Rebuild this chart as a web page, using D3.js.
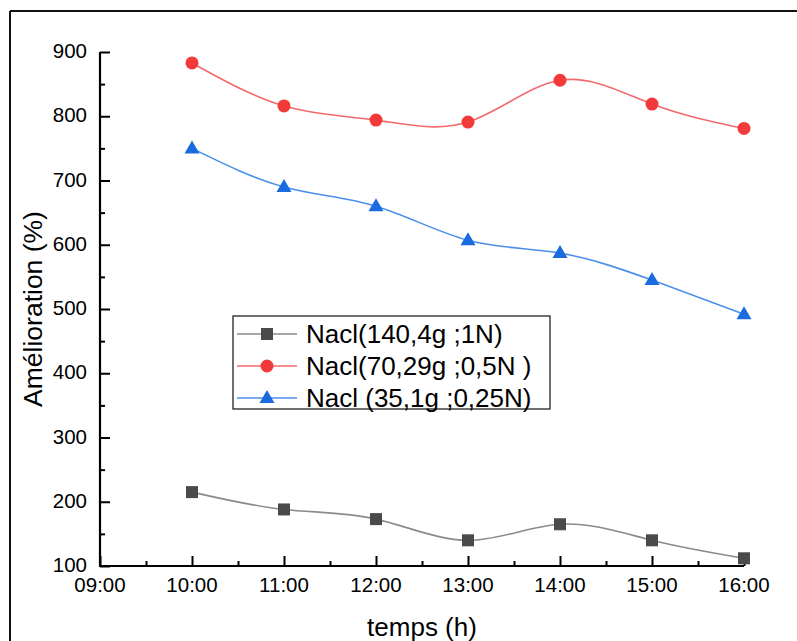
<!DOCTYPE html>
<html>
<head>
<meta charset="utf-8">
<script src="https://cdn.jsdelivr.net/npm/d3@7/dist/d3.min.js"></script>
<style>
  html, body { margin: 0; padding: 0; background: #fff; }
  svg { display: block; font-family: Arial, "Liberation Sans", sans-serif; }
</style>
</head>
<body>
<svg id="chart" width="797" height="641"></svg>
<script>
// Measurement times (hours) and tick labels
const hours = [10, 11, 12, 13, 14, 15, 16];
const xTickValues = [9, 10, 11, 12, 13, 14, 15, 16];
const xTickLabels = ["09:00", "10:00", "11:00", "12:00", "13:00", "14:00", "15:00", "16:00"];
const yTickValues = [100, 200, 300, 400, 500, 600, 700, 800, 900];

// Amélioration (%) for each NaCl concentration
const nacl1N = [215, 188, 173, 140, 165, 140, 112];
const nacl05N = [883, 816, 794, 791, 856, 819, 781];
const nacl025N = [750, 690, 660, 607, 587, 545, 492];

const seriesNames = ["Nacl(140,4g ;1N)", "Nacl(70,29g ;0,5N )", "Nacl (35,1g ;0,25N)"];

const series = [
  { name: seriesNames[0], values: nacl1N, marker: "square", fill: "#4a4a4a", line: "#8a8a8a" },
  { name: seriesNames[1], values: nacl05N, marker: "circle", fill: "#f23a3a", line: "#f36a6a" },
  { name: seriesNames[2], values: nacl025N, marker: "triangle", fill: "#1a6be0", line: "#4a90ea" }
];

const svg = d3.select("#chart");

// Outer frame (top and left edges visible)
svg.append("line").attr("x1", 10).attr("y1", 11).attr("x2", 797).attr("y2", 11)
  .attr("stroke", "#111").attr("stroke-width", 2);
svg.append("line").attr("x1", 10).attr("y1", 11).attr("x2", 10).attr("y2", 641)
  .attr("stroke", "#111").attr("stroke-width", 2);

const x = d3.scaleLinear().domain([9, 16]).range([100, 744]);
const y = d3.scaleLinear().domain([100, 900]).range([566, 52]);

// Minor ticks every half unit
const xMinor = d3.range(9.5, 16, 1);
const yMinor = d3.range(150, 900, 100);

const axisG = svg.append("g");

// Y axis
const yAxis = axisG.append("g").attr("transform", "translate(100,0)")
  .call(d3.axisRight(y).tickValues(yTickValues).tickSize(10).tickFormat(""));
yAxis.select(".domain").remove();
yAxis.selectAll(".tick line").attr("stroke", "#000").attr("stroke-width", 2);
axisG.append("g").attr("transform", "translate(100,0)")
  .call(d3.axisRight(y).tickValues(yMinor).tickSize(5).tickFormat(""))
  .call(g => g.select(".domain").remove())
  .selectAll(".tick line").attr("stroke", "#000").attr("stroke-width", 2);

axisG.selectAll(".ylab").data(yTickValues).enter().append("text")
  .attr("class", "ylab")
  .attr("x", 87).attr("y", d => y(d) + 6)
  .attr("text-anchor", "end")
  .attr("font-size", 20.5).attr("fill", "#000")
  .text(d => d);

// X axis
const xAxis = axisG.append("g").attr("transform", "translate(0,566)")
  .call(d3.axisTop(x).tickValues(xTickValues).tickSize(10).tickFormat(""));
xAxis.select(".domain").remove();
xAxis.selectAll(".tick line").attr("stroke", "#000").attr("stroke-width", 2);
axisG.append("g").attr("transform", "translate(0,566)")
  .call(d3.axisTop(x).tickValues(xMinor).tickSize(5).tickFormat(""))
  .call(g => g.select(".domain").remove())
  .selectAll(".tick line").attr("stroke", "#000").attr("stroke-width", 2);

axisG.selectAll(".xlab").data(xTickValues).enter().append("text")
  .attr("class", "xlab")
  .attr("x", d => x(d)).attr("y", 592)
  .attr("text-anchor", "middle")
  .attr("font-size", 20.5).attr("fill", "#000")
  .text((d, i) => xTickLabels[i]);

// Axis lines
axisG.append("path")
  .attr("d", `M100,${y(900)}V566H744`)
  .attr("fill", "none").attr("stroke", "#000").attr("stroke-width", 2.2);

// Axis titles
svg.append("text").attr("x", 422).attr("y", 636)
  .attr("text-anchor", "middle").attr("font-size", 26).attr("fill", "#000")
  .text("temps (h)");
svg.append("text")
  .attr("transform", "translate(42,309) rotate(-90)")
  .attr("text-anchor", "middle").attr("font-size", 26.5).attr("fill", "#000")
  .text("Amélioration (%)");

// Marker drawing
function drawMarker(g, type, fill, cx, cy) {
  if (type === "square") {
    g.append("rect").attr("x", cx - 6).attr("y", cy - 6).attr("width", 12).attr("height", 12)
      .attr("fill", fill);
  } else if (type === "circle") {
    g.append("circle").attr("cx", cx).attr("cy", cy).attr("r", 6.5).attr("fill", fill);
  } else {
    g.append("path")
      .attr("d", `M${cx},${cy - 8}L${cx + 7.5},${cy + 5}L${cx - 7.5},${cy + 5}Z`)
      .attr("fill", fill);
  }
}

const line = d3.line()
  .x((d, i) => x(hours[i]))
  .y(d => y(d))
  .curve(d3.curveNatural);

const plot = svg.append("g");
series.forEach(s => {
  plot.append("path")
    .attr("d", line(s.values))
    .attr("fill", "none")
    .attr("stroke", s.line)
    .attr("stroke-width", 1.6);
  const mg = plot.append("g");
  s.values.forEach((v, i) => drawMarker(mg, s.marker, s.fill, x(hours[i]), y(v)));
});

// Legend
const legend = svg.append("g");
legend.append("rect").attr("x", 233).attr("y", 316).attr("width", 317).attr("height", 93)
  .attr("fill", "#fff").attr("stroke", "#222").attr("stroke-width", 1.3);
series.forEach((s, i) => {
  const ly = 334 + i * 32;
  legend.append("line").attr("x1", 237).attr("x2", 297).attr("y1", ly).attr("y2", ly)
    .attr("stroke", s.line).attr("stroke-width", 1.6);
  drawMarker(legend, s.marker, s.fill, 267, ly);
  legend.append("text").attr("x", 306).attr("y", ly + 9)
    .attr("font-size", 26).attr("fill", "#000")
    .text(s.name);
});
</script>
</body>
</html>
